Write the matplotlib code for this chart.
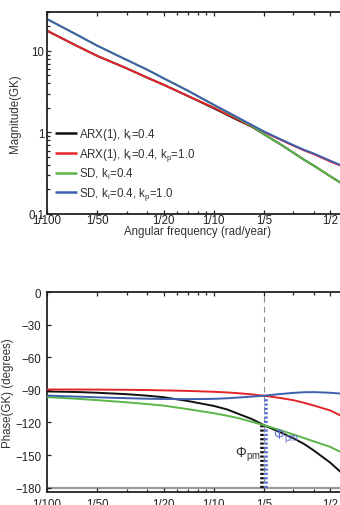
import matplotlib
matplotlib.use("Agg")
import matplotlib.pyplot as plt
from matplotlib.ticker import FixedLocator, NullFormatter

plt.rcParams['font.family'] = ['Liberation Sans', 'DejaVu Sans']
plt.rcParams['mathtext.fontset'] = 'custom'
plt.rcParams['mathtext.rm'] = 'Liberation Sans'
plt.rcParams['mathtext.it'] = 'Liberation Sans:italic'
plt.rcParams['mathtext.bf'] = 'Liberation Sans:bold'
plt.rcParams['axes.unicode_minus'] = True

# ---------------- data ----------------
freq = [0.01, 0.015, 0.02, 0.03, 0.04, 0.05, 0.07, 0.1, 0.12, 0.14,
        0.17, 0.2, 0.25, 0.3, 0.35, 0.4, 0.5, 0.6]

mag_arx = [17.7, 11.6, 8.69, 6.12, 4.69, 3.85, 2.80, 1.98, 1.65, 1.41,
           1.17, 0.95, 0.72, 0.565, 0.46, 0.39, 0.29, 0.23]
mag_arx_kp = [17.7, 11.6, 8.69, 6.12, 4.69, 3.85, 2.80, 2.02, 1.68, 1.44,
              1.18, 1.01, 0.82, 0.69, 0.60, 0.54, 0.44, 0.38]
mag_sd = [24.6, 15.9, 11.6, 7.77, 5.87, 4.62, 3.25, 2.17, 1.77, 1.49,
          1.20, 0.95, 0.72, 0.565, 0.46, 0.39, 0.29, 0.23]
mag_sd_kp = [24.6, 15.9, 11.6, 7.77, 5.87, 4.62, 3.25, 2.19, 1.80, 1.52,
             1.23, 1.03, 0.83, 0.70, 0.61, 0.55, 0.45, 0.385]

ph_arx = [-91.5, -92.0, -92.7, -94.0, -95.4, -96.8, -100.3, -104.8, -108.0, -112.0,
          -117.0, -122.5, -129.0, -134.5, -140.0, -146.0, -157.0, -168.0]
ph_arx_kp = [-89.7, -89.7, -89.8, -90.0, -90.2, -90.5, -91.0, -91.8, -92.4, -93.1,
             -94.2, -95.4, -97.5, -99.5, -102.0, -104.5, -109.0, -115.0]
ph_sd = [-96.7, -98.2, -99.5, -101.5, -103.1, -104.5, -107.8, -111.5, -113.8, -116.0,
         -119.5, -122.5, -127.0, -131.0, -134.5, -137.5, -142.5, -148.5]
ph_sd_kp = [-95.3, -96.2, -96.9, -97.7, -98.2, -98.4, -98.6, -98.3, -97.8, -97.1,
            -96.2, -95.4, -93.9, -92.8, -92.2, -92.1, -92.7, -93.7]

labels = ['ARX(1), $\\mathrm{k_i}$=0.4',
          'ARX(1), $\\mathrm{k_i}$=0.4, $\\mathrm{k_p}$=1.0',
          'SD, $\\mathrm{k_i}$=0.4',
          'SD, $\\mathrm{k_i}$=0.4, $\\mathrm{k_p}$=1.0']
colors = ['#111111', '#e3262b', '#5cb547', '#3c5fae']

# phase-margin markers
pm_freq_arx = 0.195
pm_freq_sd_kp = 0.205
pm_phase_arx = -122.5
pm_phase_sd_kp = -95.4
crossover_freq = 0.2

xticks = [0.01, 0.02, 0.05, 0.1, 0.2, 0.5]
xticklabels = ['1/100', '1/50', '1/20', '1/10', '1/5', '1/2']
xminor = [0.03, 0.04, 0.06, 0.07, 0.08, 0.09, 0.3, 0.4, 0.6]
mag_ticks = [0.1, 1, 10]
mag_ticklabels = ['0.1', '1', '10']
mag_minor = [0.2, 0.3, 0.4, 0.5, 0.6, 0.7, 0.8, 0.9, 2, 3, 4, 5, 6, 7, 8, 9, 20, 30]
ph_ticks = [0, -30, -60, -90, -120, -150, -180]

# ---------------- figure ----------------
W, H = 340, 506
fig = plt.figure(figsize=(W / 100, H / 100), dpi=100)
ax1 = fig.add_axes([47 / W, (H - 215) / H, 300 / W, 202 / H])
ax2 = fig.add_axes([47 / W, (H - 493) / H, 300 / W, 200 / H])

fs = 8.3
lw = 1.4

mags = [mag_arx, mag_arx_kp, mag_sd, mag_sd_kp]
phs = [ph_arx, ph_arx_kp, ph_sd, ph_sd_kp]
for m, c, lab in zip(mags, colors, labels):
    ax1.plot(freq, m, color=c, lw=lw, label=lab, solid_capstyle='butt')
ax1.set_xscale('log')
ax1.set_yscale('log')
ax1.set_xlim(0.01, 0.63)
ax1.set_ylim(0.1, 30)

# bottom panel
ax2.axhline(-180, color='#9a9a9a', lw=1.6, zorder=1)
ax2.axvline(crossover_freq, color='#8a8a8a', lw=0.8, ls=(0, (5, 4)), zorder=1)
ax2.plot([pm_freq_arx, pm_freq_arx], [-180, pm_phase_arx], color='#111111',
         lw=2.6, ls=(0, (0.6, 0.6)), zorder=2)
ax2.plot([pm_freq_sd_kp, pm_freq_sd_kp], [-180, pm_phase_sd_kp], color='#5a70cc',
         lw=2.6, ls=(0, (0.6, 0.6)), zorder=2)
for p, c in zip(phs, colors):
    ax2.plot(freq, p, color=c, lw=lw, zorder=3)
ax2.set_xscale('log')
ax2.set_xlim(0.01, 0.63)
ax2.set_ylim(-184, 0)

ax2.text(0.192, -149, '$\\Phi_{\\mathrm{pm}}$', color='#333333', fontsize=fs + 1.5,
         ha='right', va='center')
ax2.text(0.228, -132, '$\\Phi_{\\mathrm{pm}}$', color='#5a70cc', fontsize=fs + 1.5,
         ha='left', va='center')

for ax in (ax1, ax2):
    ax.xaxis.set_major_locator(FixedLocator(xticks))
    ax.set_xticklabels(xticklabels)
    ax.xaxis.set_minor_locator(FixedLocator(xminor))
    ax.xaxis.set_minor_formatter(NullFormatter())
    ax.tick_params(which='both', direction='in', top=True, right=True,
                   labelsize=fs, colors='#222222', width=0.9)
    ax.tick_params(which='major', length=3)
    ax.tick_params(which='minor', length=2.2)
    for s in ax.spines.values():
        s.set_linewidth(1.3)
        s.set_color('#222222')

ax1.yaxis.set_major_locator(FixedLocator(mag_ticks))
ax1.set_yticklabels(mag_ticklabels)
ax1.yaxis.set_minor_locator(FixedLocator(mag_minor))
ax1.yaxis.set_minor_formatter(NullFormatter())
ax1.tick_params(axis='x', pad=0)
ax1.tick_params(axis='y', pad=2)

ax2.set_yticks(ph_ticks)
ax2.set_yticklabels(['0'] + ['\u2212%d' % (-t) for t in ph_ticks[1:]])
ax2.tick_params(axis='x', pad=4)
ax2.tick_params(axis='y', pad=4)

ax1.set_ylabel('Magnitude(GK)', fontsize=fs, color='#333333')
ax1.yaxis.set_label_coords(-0.085, 0.5)
ax1.set_xlabel('Angular frequency (rad/year)', fontsize=fs, color='#333333', labelpad=-1)
ax2.set_ylabel('Phase(GK) (degrees)', fontsize=fs, color='#333333')
ax2.yaxis.set_label_coords(-0.11, 0.5)

leg = ax1.legend(loc='lower left', bbox_to_anchor=(-0.013, 0.0), frameon=False,
                 fontsize=fs, handlelength=1.9, handletextpad=0.15,
                 labelspacing=0.3, borderaxespad=0.65)
for t in leg.get_texts():
    t.set_color('#333333')
for h in leg.legend_handles:
    h.set_linewidth(1.8)

fig.savefig('out.png', dpi=100)
